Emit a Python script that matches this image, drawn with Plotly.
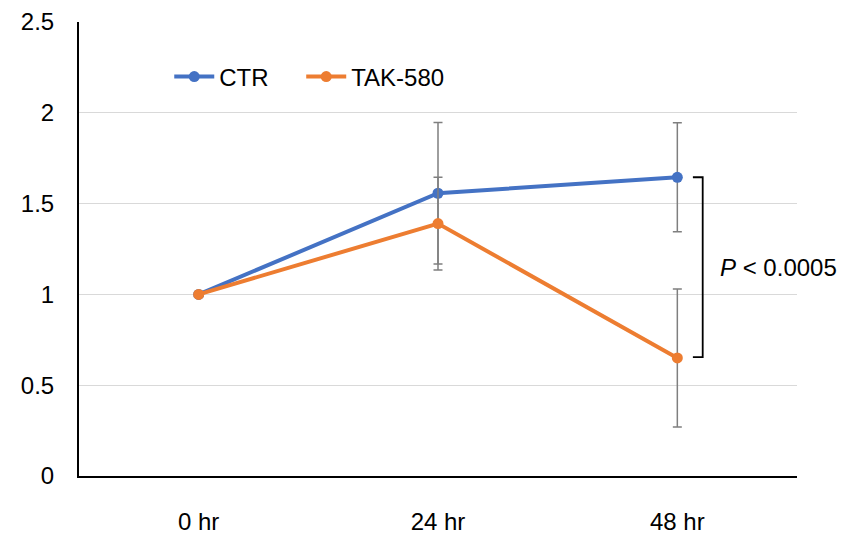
import plotly.graph_objects as go

categories = ["0 hr", "24 hr", "48 hr"]
ctr_values = [1.0, 1.557, 1.645]
ctr_errors = [0.0, 0.39, 0.30]
tak_values = [1.0, 1.39, 0.65]
tak_errors = [0.0, 0.255, 0.38]
y_ticks = [0, 0.5, 1, 1.5, 2, 2.5]
y_tick_labels = ["0", "0.5", "1", "1.5", "2", "2.5"]
p_label = "<i>P</i> &lt; 0.0005"

FONT = "Arial, Liberation Sans, sans-serif"
BLUE = "#4472C4"
ORANGE = "#ED7D31"
ERR = "#7f7f7f"

fig = go.Figure()
for name, vals, errs, col, leg in [("CTR", ctr_values, ctr_errors, BLUE, "legend"),
                                    ("TAK-580", tak_values, tak_errors, ORANGE, "legend2")]:
    fig.add_trace(go.Scatter(
        x=categories, y=vals, name=name, mode="lines+markers", legend=leg,
        line=dict(color=col, width=4),
        marker=dict(color=col, size=11),
        error_y=dict(type="data", array=errs, visible=True,
                     color=ERR, thickness=1.5, width=4.5),
    ))

# bracket between 48 hr values
bx0, bx1 = 2.065, 2.106
fig.add_shape(type="path", xref="x", yref="y",
              path=f"M {bx0},{ctr_values[2]} L {bx1},{ctr_values[2]} L {bx1},{tak_values[2]+0.005} L {bx0},{tak_values[2]+0.005}",
              line=dict(color="black", width=1.8))
fig.add_annotation(x=2.17, y=(ctr_values[2] + tak_values[2]) / 2, xref="x", yref="y",
                   text=p_label, showarrow=False, xanchor="left", yanchor="middle",
                   font=dict(family=FONT, size=24, color="black"))

legend_common = dict(orientation="h", y=0.879, xanchor="left", yanchor="middle",
                     font=dict(family=FONT, size=24, color="black"),
                     bgcolor="rgba(0,0,0,0)", itemwidth=40)

fig.update_layout(
    width=837, height=529,
    margin=dict(l=71, r=48, t=14, b=61, autoexpand=False),
    paper_bgcolor="white", plot_bgcolor="white",
    font=dict(family=FONT, size=24, color="black"),
    showlegend=True,
    legend=dict(x=0.1257, **legend_common),
    legend2=dict(x=0.3095, **legend_common),
)
fig.update_xaxes(type="category", range=[-0.5, 2.5], showgrid=False,
                 showline=True, linecolor="black", linewidth=2, automargin=False,
                 ticks="", ticklabelstandoff=23, zeroline=False)
fig.update_yaxes(range=[0, 2.5], tickvals=y_ticks, ticktext=y_tick_labels,
                 showgrid=True, gridcolor="#d9d9d9", gridwidth=1, automargin=False,
                 showline=True, linecolor="black", linewidth=2,
                 ticks="", ticklabelstandoff=18, zeroline=False)

fig.write_html("out.html")
